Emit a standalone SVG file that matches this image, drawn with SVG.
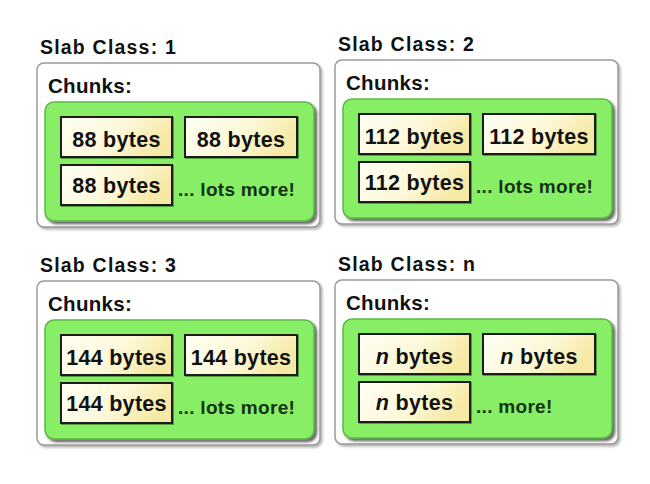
<svg xmlns="http://www.w3.org/2000/svg" width="650" height="484" viewBox="0 0 650 484">
<defs>
<linearGradient id="chunkGrad" x1="0" y1="0" x2="1" y2="0.3">
<stop offset="0" stop-color="#fffff4"/>
<stop offset="0.6" stop-color="#fdf8d8"/>
<stop offset="1" stop-color="#f6e9a6"/>
</linearGradient>
<filter id="outerShadow" x="-5%" y="-5%" width="115%" height="115%">
<feDropShadow dx="2" dy="2" stdDeviation="1.2" flood-color="#888" flood-opacity="0.6"/>
</filter>
<filter id="greenShadow" x="-5%" y="-5%" width="115%" height="115%">
<feDropShadow dx="2.5" dy="2.5" stdDeviation="1" flood-color="#444" flood-opacity="0.8"/>
</filter>
<filter id="chunkShadow" x="-5%" y="-5%" width="115%" height="125%">
<feDropShadow dx="1" dy="1" stdDeviation="0.6" flood-color="#2a6a1a" flood-opacity="0.6"/>
</filter>
</defs>
<style>
.title{font-family:"Liberation Sans",Arial,sans-serif;font-weight:bold;font-size:19.5px;letter-spacing:1.2px;fill:#111}
.chunks{font-family:"Liberation Sans",Arial,sans-serif;font-weight:bold;font-size:20.5px;letter-spacing:0.3px;fill:#111}
.outer{fill:#fff;stroke:#9a9a9a;stroke-width:1.5;filter:url(#outerShadow)}
.green{fill:#88ee66;stroke:#5cb846;stroke-width:1.5;filter:url(#greenShadow)}
.chunk{fill:url(#chunkGrad);stroke:#1e1e1e;stroke-width:2;filter:url(#chunkShadow)}
.ct{font-family:"Liberation Sans",Arial,sans-serif;font-weight:bold;font-size:21.5px;letter-spacing:0.3px;fill:#111;text-anchor:middle}
.more{font-family:"Liberation Sans",Arial,sans-serif;font-weight:bold;font-size:19px;letter-spacing:0.3px;fill:#143214}
</style>
<rect width="650" height="484" fill="#fff"/>

<g id="slab1">
<text class="title" x="40" y="54">Slab Class: 1</text>
<rect class="outer" x="37" y="63" width="283" height="164" rx="7"/>
<text class="chunks" x="48" y="93">Chunks:</text>
<rect class="green" x="45" y="102" width="269" height="119" rx="9"/>
<g id="slab1-chunk1"><rect class="chunk" x="61" y="117" width="111" height="40"/><text class="ct" x="116.5" y="147">88 bytes</text></g>
<g id="slab1-chunk2"><rect class="chunk" x="185" y="117" width="112" height="40"/><text class="ct" x="241" y="147">88 bytes</text></g>
<g id="slab1-chunk3"><rect class="chunk" x="61" y="165" width="111" height="40"/><text class="ct" x="116.5" y="193">88 bytes</text></g>
<text class="more" x="178" y="196">... lots more!</text>
</g>

<g id="slab2" transform="translate(298,-3)">
<text class="title" x="40" y="54">Slab Class: 2</text>
<rect class="outer" x="37" y="63" width="283" height="164" rx="7"/>
<text class="chunks" x="48" y="93">Chunks:</text>
<rect class="green" x="45" y="102" width="269" height="119" rx="9"/>
<g id="slab2-chunk1"><rect class="chunk" x="61" y="117" width="111" height="40"/><text class="ct" x="116.5" y="147">112 bytes</text></g>
<g id="slab2-chunk2"><rect class="chunk" x="185" y="117" width="112" height="40"/><text class="ct" x="241" y="147">112 bytes</text></g>
<g id="slab2-chunk3"><rect class="chunk" x="61" y="165" width="111" height="40"/><text class="ct" x="116.5" y="193">112 bytes</text></g>
<text class="more" x="178" y="196">... lots more!</text>
</g>

<g id="slab3" transform="translate(0,218)">
<text class="title" x="40" y="54">Slab Class: 3</text>
<rect class="outer" x="37" y="63" width="283" height="164" rx="7"/>
<text class="chunks" x="48" y="93">Chunks:</text>
<rect class="green" x="45" y="102" width="269" height="119" rx="9"/>
<g id="slab3-chunk1"><rect class="chunk" x="61" y="117" width="111" height="40"/><text class="ct" x="116.5" y="147">144 bytes</text></g>
<g id="slab3-chunk2"><rect class="chunk" x="185" y="117" width="112" height="40"/><text class="ct" x="241" y="147">144 bytes</text></g>
<g id="slab3-chunk3"><rect class="chunk" x="61" y="165" width="111" height="40"/><text class="ct" x="116.5" y="193">144 bytes</text></g>
<text class="more" x="178" y="196">... lots more!</text>
</g>

<g id="slabn" transform="translate(298,217)">
<text class="title" x="40" y="54">Slab Class: n</text>
<rect class="outer" x="37" y="63" width="283" height="164" rx="7"/>
<text class="chunks" x="48" y="93">Chunks:</text>
<rect class="green" x="45" y="102" width="269" height="119" rx="9"/>
<g id="slabn-chunk1"><rect class="chunk" x="61" y="117" width="111" height="40"/><text class="ct" x="116.5" y="147"><tspan font-style="italic">n</tspan> bytes</text></g>
<g id="slabn-chunk2"><rect class="chunk" x="185" y="117" width="112" height="40"/><text class="ct" x="241" y="147"><tspan font-style="italic">n</tspan> bytes</text></g>
<g id="slabn-chunk3"><rect class="chunk" x="61" y="165" width="111" height="40"/><text class="ct" x="116.5" y="193"><tspan font-style="italic">n</tspan> bytes</text></g>
<text class="more" x="178" y="196">... more!</text>
</g>

<g id="connectors"/>
</svg>
